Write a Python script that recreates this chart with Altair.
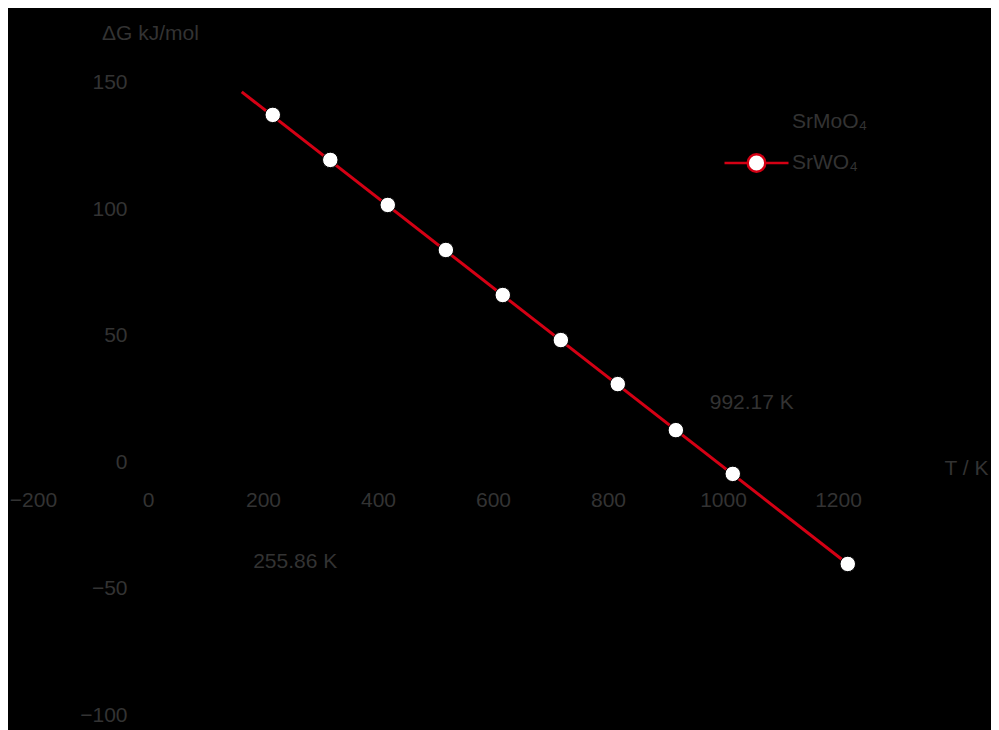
import altair as alt
import pandas as pd

# ---- data ----
T_pts = [217, 317, 417, 518, 617, 718, 817, 918, 1017, 1217]
G_pts = [137.2, 119.4, 101.6, 83.8, 66.0, 48.2, 30.8, 12.6, -4.7, -40.3]
T_fit = [163, 1217]
G_fit = [146.3, -40.3]
series = ["SrMoO₄", "SrWO₄"]
ann_text = ["992.17 K", "255.86 K"]
ann_T = [1050, 256]
ann_G = [23.3, -39.5]
x_ticks = [-200, 0, 200, 400, 600, 800, 1000, 1200]
y_ticks = [-100, -50, 0, 50, 100, 150]

TXT = "#333333"
RED = "#d40014"
FS = 21
PATH = "M-4,0H-1.1M1.1,0H4M-1.1,0A1.1,1.1 0 1,1 1.1,0A1.1,1.1 0 1,1 -1.1,0Z"

pts = pd.DataFrame({"T": T_pts, "G": G_pts})
fit = pd.DataFrame({"T": T_fit, "G": G_fit})
ann = pd.DataFrame({"T": ann_T, "G": ann_G, "label": ann_text})
leg = pd.DataFrame({"series": series})

xscale = alt.Scale(domain=[-200, 1400], nice=False, zero=False)
yscale = alt.Scale(domain=[-100, 150], nice=False, zero=False)

xaxis = alt.Axis(values=x_ticks, format="d", title="T / K", orient="bottom", offset=-253,
                 domain=False, ticks=False, tickSize=0, labelPadding=27,
                 labelFontSize=FS, labelColor=TXT, labelFlush=False, labelOverlap=False,
                 titleX=933, titleY=6, titleAlign="center", titleBaseline="middle",
                 titleFontSize=FS, titleColor=TXT, titleFontWeight="normal", grid=False)
yaxis = alt.Axis(values=y_ticks, format="d", title="ΔG kJ/mol", orient="left", offset=-115,
                 domain=False, ticks=False, tickSize=0, labelPadding=21,
                 labelFontSize=FS, labelColor=TXT, labelFlush=False, labelOverlap=False,
                 titleX=2, titleY=-49.5, titleAngle=0, titleAlign="center",
                 titleBaseline="middle", titleFontSize=FS, titleColor=TXT,
                 titleFontWeight="normal", grid=False)

X = alt.X("T:Q", scale=xscale, axis=xaxis)
Y = alt.Y("G:Q", scale=yscale, axis=yaxis)

line = alt.Chart(fit).mark_line(color=RED, strokeWidth=3).encode(x=X, y=Y)
points = alt.Chart(pts).mark_point(filled=True, fill="white", stroke="black",
                                    strokeWidth=1, size=240, opacity=1).encode(x=X, y=Y)
texts = alt.Chart(ann).mark_text(fontSize=FS, color=TXT, align="center",
                                 baseline="middle").encode(x=X, y=Y, text="label:N")

legdef = alt.Legend(title=None, orient="none", legendX=713, legendY=29,
                    labelFontSize=FS, labelColor=TXT, symbolSize=256,
                    symbolStrokeWidth=2.5, symbolType=PATH, labelOffset=25,
                    rowPadding=12, padding=0)
legend_layer = alt.Chart(leg).transform_filter("false").mark_point(
    filled=True, shape=PATH, size=256, strokeWidth=2.5, opacity=1
).encode(
    fill=alt.Fill("series:N", scale=alt.Scale(domain=series, range=["black", "white"]), legend=legdef),
    stroke=alt.Stroke("series:N", scale=alt.Scale(domain=series, range=["black", RED]), legend=legdef),
)

chart = alt.layer(line, points, texts, legend_layer).properties(
    width=920, height=632.5,
    autosize=alt.AutoSizeParams(type="none"),
    padding={"left": 25, "top": 74.5, "right": 38, "bottom": 15},
    background="black",
).configure(font="Liberation Sans").configure_view(strokeOpacity=0, strokeWidth=0)

chart.save("out.html", embed_options={"renderer": "svg", "actions": False})
